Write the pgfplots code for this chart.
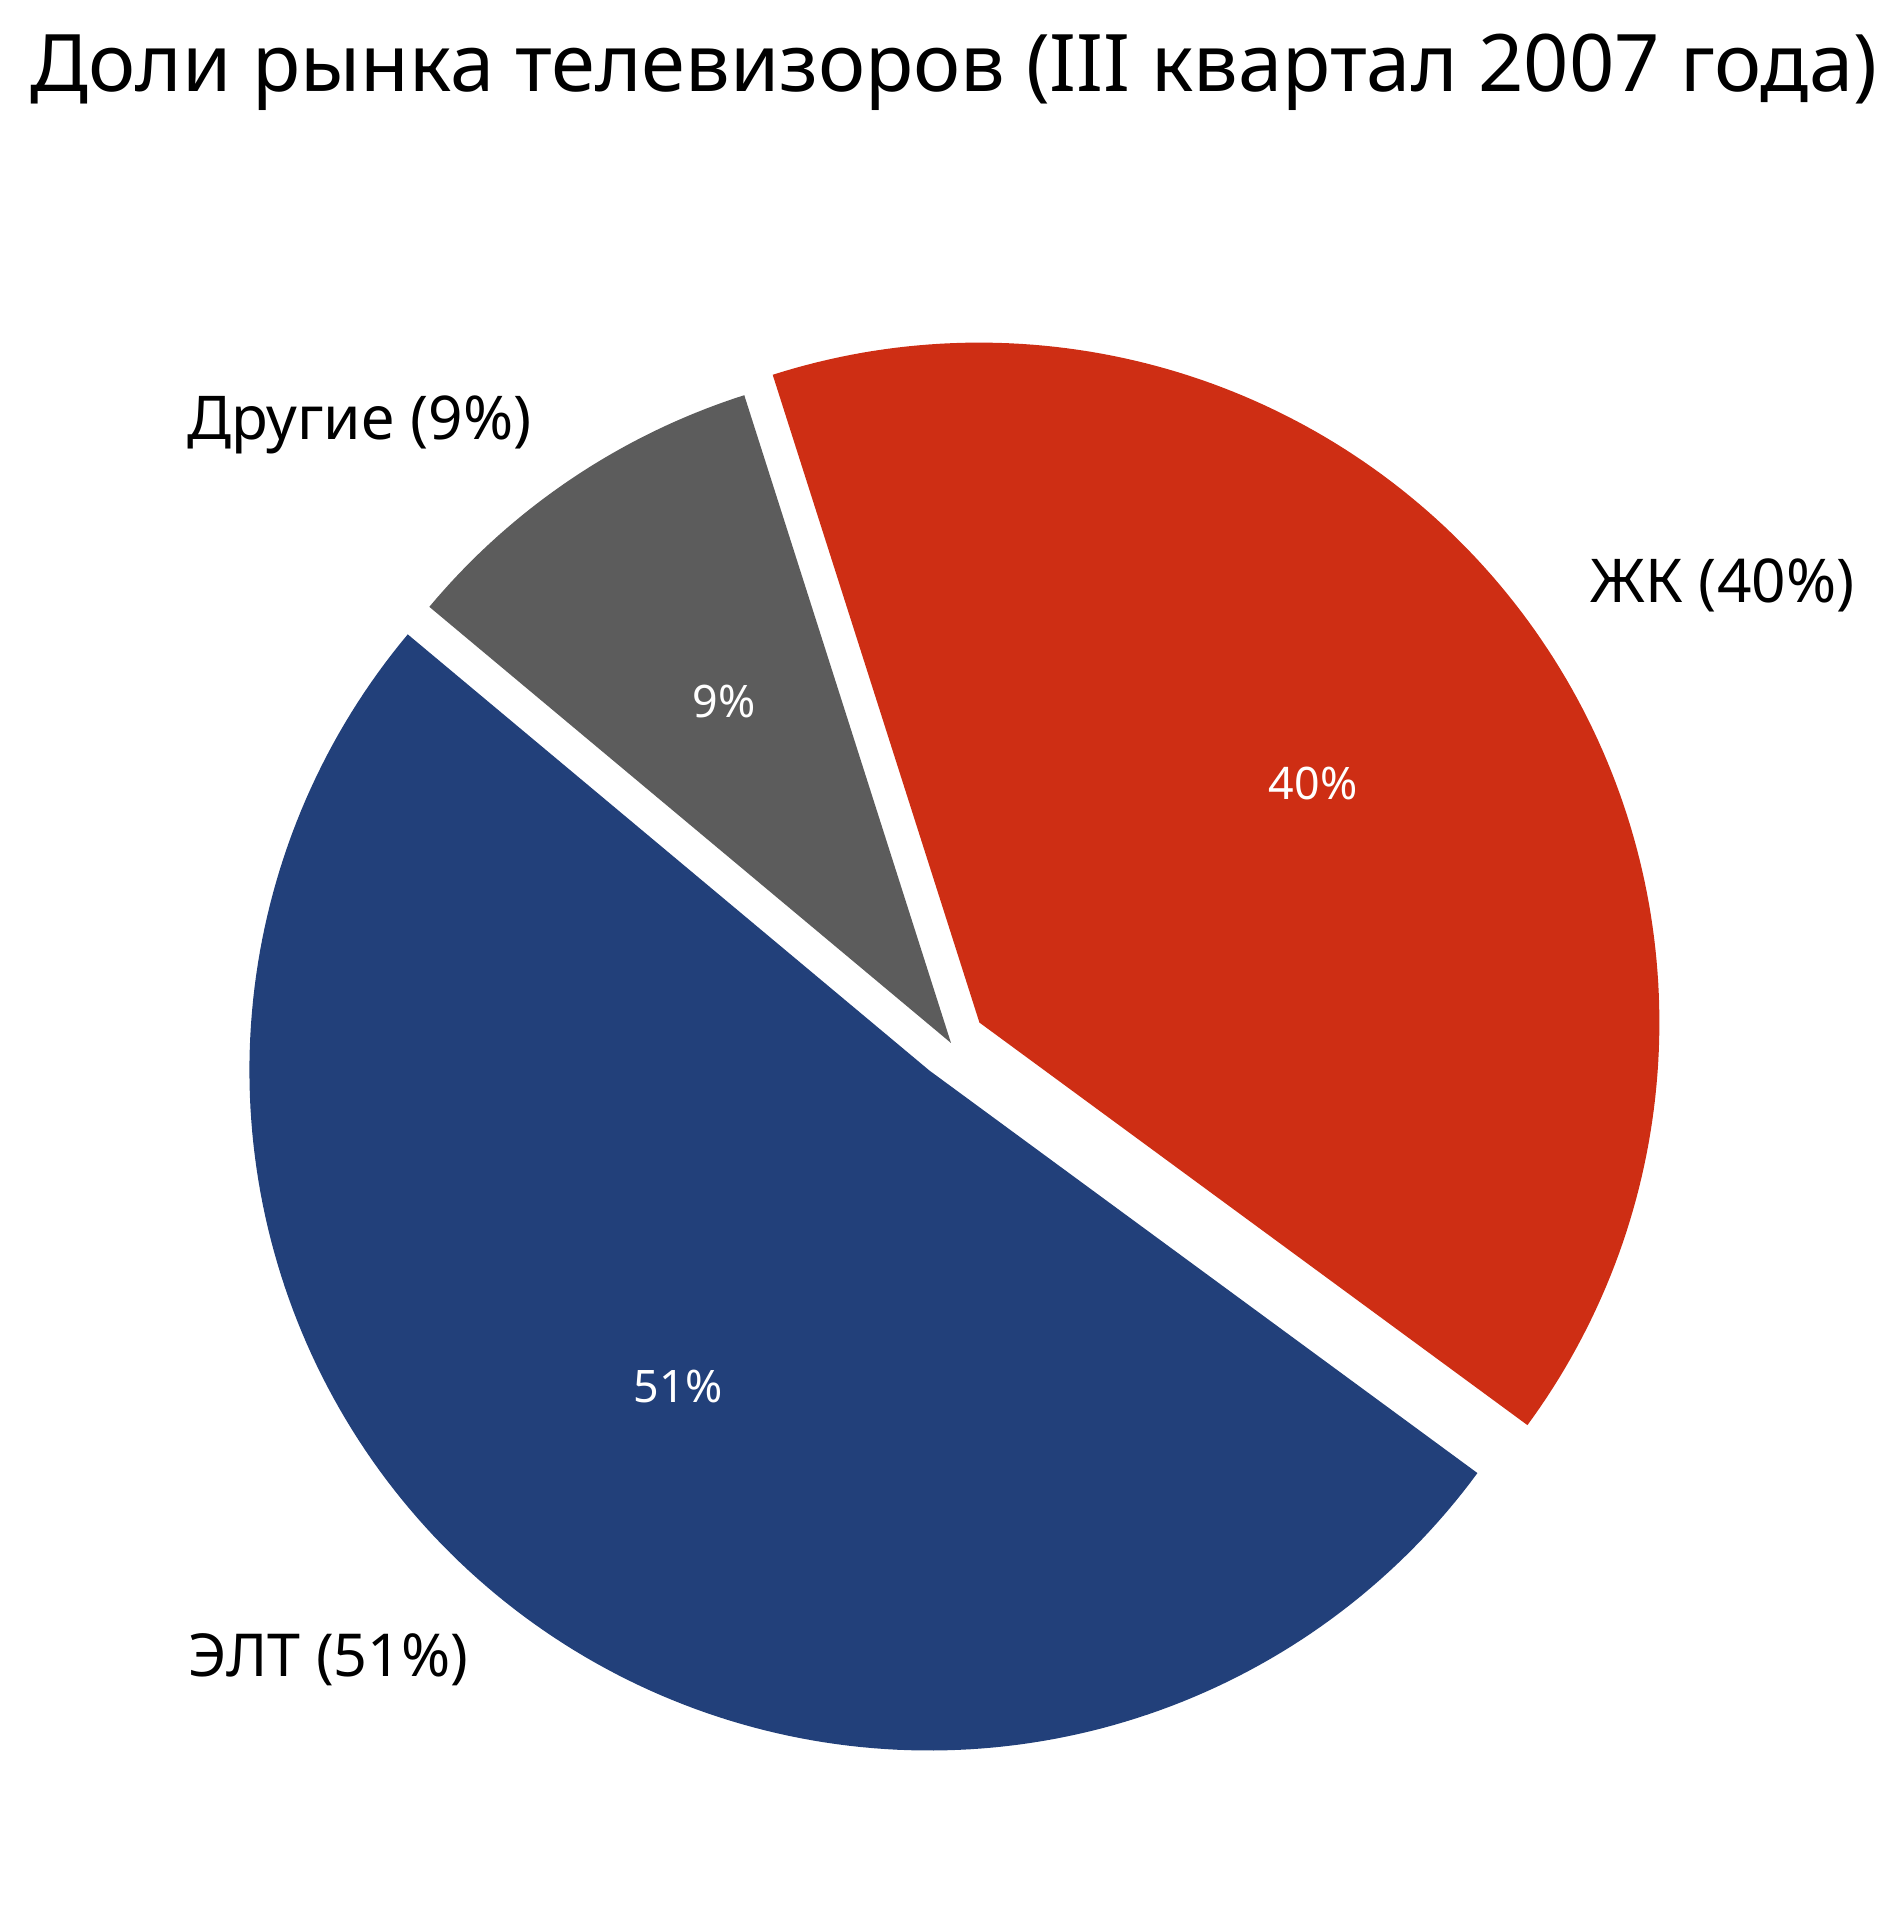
\documentclass[border=0pt]{standalone}
\usepackage{pgfplots}
\pgfplotsset{compat=1.18}
\usepackage{pgfplotstable}
\usepackage{fontspec}
\setmainfont{Noto Sans}
\definecolor{crt}{HTML}{22407A}
\definecolor{lcd}{HTML}{CE2E14}
\definecolor{oth}{HTML}{5C5C5C}

% shares (%) and explode offset (px), in drawing order counter-clockwise
\pgfplotstableread{
share explode
40 35
9 0
51 35
}\piedata
\pgfplotstablegetelem{0}{share}\of\piedata \let\vA\pgfplotsretval
\pgfplotstablegetelem{1}{share}\of\piedata \let\vB\pgfplotsretval
\pgfplotstablegetelem{2}{share}\of\piedata \let\vC\pgfplotsretval
\pgfplotstablegetelem{0}{explode}\of\piedata \let\eA\pgfplotsretval
\pgfplotstablegetelem{1}{explode}\of\piedata \let\eB\pgfplotsretval
\pgfplotstablegetelem{2}{explode}\of\piedata \let\eC\pgfplotsretval

\def\cx{951}\def\cy{877}\def\R{680}
\pgfmathsetmacro\aS{-36.3}
\pgfmathsetmacro\aA{\aS+3.6*\vA}
\pgfmathsetmacro\aB{\aA+3.6*\vB}
\pgfmathsetmacro\aC{\aB+3.6*\vC}
\pgfmathsetmacro\pxA{\cx+\eA*cos((\aS+\aA)/2)}
\pgfmathsetmacro\pyA{\cy+\eA*sin((\aS+\aA)/2)}
\pgfmathsetmacro\pxB{\cx+\eB*cos((\aA+\aB)/2)}
\pgfmathsetmacro\pyB{\cy+\eB*sin((\aA+\aB)/2)}
\pgfmathsetmacro\pxC{\cx+\eC*cos((\aB+\aC)/2)}
\pgfmathsetmacro\pyC{\cy+\eC*sin((\aB+\aC)/2)}

\begin{document}
\begin{tikzpicture}
\begin{axis}[
  width=475.5pt, height=480pt, scale only axis,
  xmin=0, xmax=1902, ymin=0, ymax=1920,
  hide axis, clip=false,
]
\path (rel axis cs:0,0) rectangle (rel axis cs:1,1);
\addplot[fill=lcd, draw=none, domain=\aS:\aA, samples=150, variable=\t]
  ({\pxA+\R*cos(\t)},{\pyA+\R*sin(\t)}) -- (axis cs:\pxA,\pyA) -- cycle;
\addplot[fill=oth, draw=none, domain=\aA:\aB, samples=60, variable=\t]
  ({\pxB+\R*cos(\t)},{\pyB+\R*sin(\t)}) -- (axis cs:\pxB,\pyB) -- cycle;
\addplot[fill=crt, draw=none, domain=\aB:\aC, samples=180, variable=\t]
  ({\pxC+\R*cos(\t)},{\pyC+\R*sin(\t)}) -- (axis cs:\pxC,\pyC) -- cycle;

% title
\node[anchor=base west, inner sep=0pt, font=\fontsize{19.85}{23}\selectfont]
  at (axis cs:30,1828) {Доли рынка телевизоров (III квартал 2007 года)};
% outside labels
\node[anchor=base west, inner sep=0pt, font=\fontsize{15.1}{18}\selectfont]
  at (axis cs:1590,1317) {ЖК (40\%)};
\node[anchor=base west, inner sep=0pt, font=\fontsize{15.1}{18}\selectfont]
  at (axis cs:187,1480) {Другие (9\%)};
\node[anchor=base west, inner sep=0pt, font=\fontsize{14.8}{18}\selectfont]
  at (axis cs:188,243) {ЭЛТ (51\%)};
% inside labels
\node[anchor=base, inner sep=0pt, text=white, font=\fontsize{11.2}{14}\selectfont]
  at (axis cs:1313,1120) {40\%};
\node[anchor=base, inner sep=0pt, text=white, font=\fontsize{11.2}{14}\selectfont]
  at (axis cs:724,1202) {9\%};
\node[anchor=base, inner sep=0pt, text=white, font=\fontsize{11.2}{14}\selectfont]
  at (axis cs:678,517) {51\%};
\end{axis}
\end{tikzpicture}
\end{document}
